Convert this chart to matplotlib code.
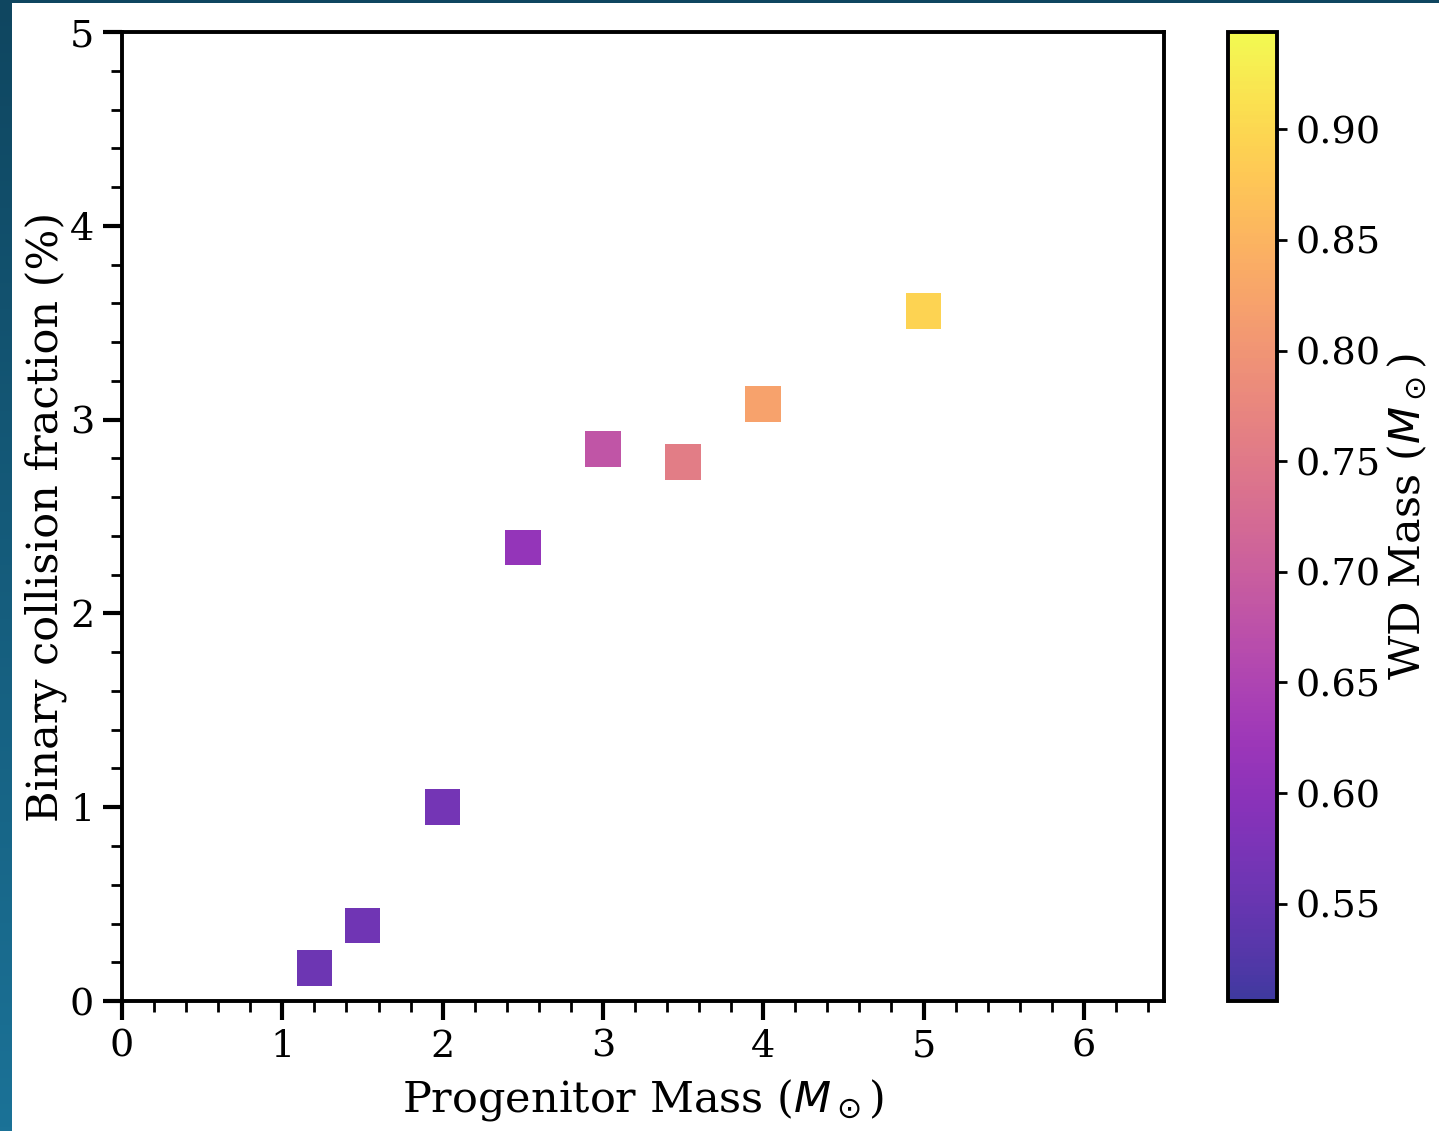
import numpy as np
import matplotlib
matplotlib.use('Agg')
import matplotlib.pyplot as plt
from matplotlib.ticker import MultipleLocator
from matplotlib.colors import LinearSegmentedColormap

# Progenitor masses, binary collision fractions and resulting WD masses
progenitor_mass = [1.2, 1.5, 2.0, 2.5, 3.0, 3.5, 4.0, 5.0]
collision_frac = [0.17, 0.39, 1.0, 2.34, 2.85, 2.78, 3.08, 3.56]
wd_mass = [0.559, 0.562, 0.567, 0.611, 0.681, 0.756, 0.821, 0.893]

plt.rcParams['font.family'] = 'DejaVu Serif'
plt.rcParams['mathtext.fontset'] = 'dejavusans'

fig = plt.figure(figsize=(14.39, 11.31), dpi=100)

# dark slide border on the left and top
strip = fig.add_axes([0, 0, 12 / 1439, 1])
grad = np.linspace(0, 1, 256).reshape(-1, 1)
bg_cmap = LinearSegmentedColormap.from_list('bg', ['#0f4660', '#1b7297'])
strip.imshow(grad, aspect='auto', cmap=bg_cmap)
strip.axis('off')
top = fig.add_axes([0, 1 - 3 / 1131, 1, 3 / 1131])
top.set_facecolor('#0f4660')
top.set_xticks([])
top.set_yticks([])
for s in top.spines.values():
    s.set_visible(False)

ax = fig.add_axes([0.0848, 0.1149, 0.7241, 0.8568])
cax = fig.add_axes([0.8534, 0.1149, 0.0341, 0.8568])

sc = ax.scatter(progenitor_mass, collision_frac, c=wd_mass, cmap='plasma',
                marker='s', s=660, alpha=0.8, vmin=0.506, vmax=0.944,
                linewidths=0)

ax.set_xlim(0, 6.5)
ax.set_ylim(0, 5)
ax.xaxis.set_major_locator(MultipleLocator(1))
ax.xaxis.set_minor_locator(MultipleLocator(0.2))
ax.yaxis.set_major_locator(MultipleLocator(1))
ax.yaxis.set_minor_locator(MultipleLocator(0.2))
ax.tick_params(which='major', direction='out', length=14, width=3, labelsize=27.5, pad=6)
ax.tick_params(which='minor', direction='out', length=8, width=2)
for s in ax.spines.values():
    s.set_linewidth(2.8)

ax.set_xlabel(r'Progenitor Mass ($M_\odot$)', fontsize=31, labelpad=9)
ax.set_ylabel('Binary collision fraction (%)', fontsize=31, labelpad=2)

cb = fig.colorbar(sc, cax=cax)
cb.set_ticks([0.55, 0.60, 0.65, 0.70, 0.75, 0.80, 0.85, 0.90])
cb.ax.tick_params(labelsize=27.5, length=7, width=2, pad=6)
cb.outline.set_linewidth(2.8)
cb.set_label(r'WD Mass ($M_\odot$)', fontsize=31, labelpad=4)

fig.savefig('out.png', dpi=100)
